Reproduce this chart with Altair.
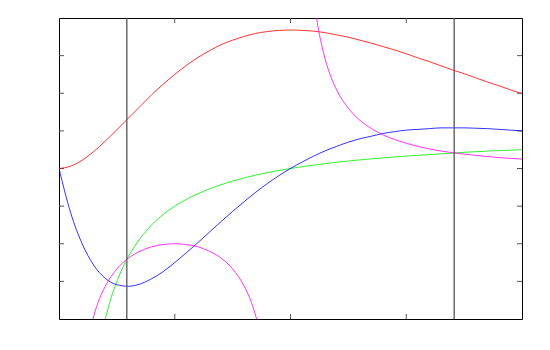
import altair as alt
import pandas as pd

# Curves
red_x = [i / 10 for i in range(41)]
red_y = [0, 0.06, 0.22, 0.45, 0.73, 1.03, 1.34, 1.65, 1.96, 2.24, 2.50, 2.74, 2.95, 3.13,
         3.29, 3.41, 3.51, 3.59, 3.64, 3.67, 3.68, 3.67, 3.65, 3.61, 3.55, 3.49, 3.41, 3.33,
         3.24, 3.15, 3.05, 2.94, 2.84, 2.73, 2.62, 2.52, 2.41, 2.30, 2.20, 2.09, 1.99]

blue_x = [i / 10 for i in range(41)]
blue_y = [0, -1.17, -2.00, -2.57, -2.92, -3.09, -3.13, -3.07, -2.93, -2.74, -2.50, -2.24,
          -1.97, -1.69, -1.41, -1.14, -0.88, -0.63, -0.40, -0.19, 0, 0.17, 0.33, 0.47, 0.59,
          0.70, 0.79, 0.86, 0.93, 0.98, 1.02, 1.04, 1.06, 1.08, 1.08, 1.08, 1.07, 1.06, 1.04,
          1.02, 1.00]

green_x = [0.38, 0.4, 0.45, 0.5, 0.55, 0.6, 0.65, 0.7, 0.75, 0.8, 0.9, 1.0, 1.2, 1.4, 1.6,
           1.8, 2.0, 2.25, 2.5, 2.75, 3.0, 3.25, 3.5, 3.75, 4.0]
green_y = [-4.26, -4.0, -3.44, -3.0, -2.64, -2.33, -2.08, -1.86, -1.67, -1.5, -1.22, -1.0,
           -0.67, -0.43, -0.25, -0.11, 0, 0.11, 0.2, 0.27, 0.33, 0.38, 0.43, 0.47, 0.5]

mag1_x = [0.28, 0.3, 0.35, 0.4, 0.5, 0.6, 0.7, 0.8, 0.9, 1.0, 1.1, 1.2, 1.3, 1.4, 1.5, 1.6,
          1.65, 1.7, 1.72]
mag1_y = [-4.15, -3.92, -3.46, -3.13, -2.67, -2.38, -2.20, -2.08, -2.02, -2.0, -2.02, -2.08,
          -2.20, -2.38, -2.67, -3.13, -3.46, -3.92, -4.15]

mag2_x = [2.2, 2.225, 2.25, 2.3, 2.35, 2.4, 2.5, 2.6, 2.7, 2.8, 2.9, 3.0, 3.2, 3.4, 3.6, 3.8, 4.0]
mag2_y = [4.55, 4.0, 3.56, 2.90, 2.43, 2.08, 1.6, 1.28, 1.06, 0.89, 0.77, 0.67, 0.52, 0.42,
          0.35, 0.29, 0.25]

vlines = [0.586, 3.414]
xticks = [1, 2, 3]
yticks = [-3, -2, -1, 0, 1, 2, 3]

W, H = 463, 301
xs = alt.Scale(domain=[0, 4], nice=False, zero=False)
ys = alt.Scale(domain=[-4, 4], nice=False, zero=False)


def curve(xv, yv, color):
    df = pd.DataFrame({"x": xv, "y": yv})
    return alt.Chart(df).mark_line(color=color, strokeWidth=1, strokeOpacity=0.8, clip=True,
                                   interpolate="monotone").encode(
        x=alt.X("x:Q", scale=xs, axis=None),
        y=alt.Y("y:Q", scale=ys, axis=None),
    )


vl = alt.Chart(pd.DataFrame({"x": vlines})).mark_rule(color="#555555", strokeWidth=1.3).encode(
    x=alt.X("x:Q", scale=xs, axis=None)
)

xt = pd.DataFrame({"x": xticks})
yt = pd.DataFrame({"y": yticks})
tick_col = "#555555"
bot = alt.Chart(xt).mark_rule(color=tick_col, strokeWidth=1).encode(
    x=alt.X("x:Q", scale=xs, axis=None), y=alt.value(H), y2=alt.value(H - 5))
top = alt.Chart(xt).mark_rule(color=tick_col, strokeWidth=1).encode(
    x=alt.X("x:Q", scale=xs, axis=None), y=alt.value(0), y2=alt.value(5))
left = alt.Chart(yt).mark_rule(color=tick_col, strokeWidth=1).encode(
    y=alt.Y("y:Q", scale=ys, axis=None), x=alt.value(0), x2=alt.value(5))
right = alt.Chart(yt).mark_rule(color=tick_col, strokeWidth=1).encode(
    y=alt.Y("y:Q", scale=ys, axis=None), x=alt.value(W), x2=alt.value(W - 5))

chart = alt.layer(
    bot, top, left, right,
    curve(red_x, red_y, "#ff0000"),
    curve(green_x, green_y, "#00ee00"),
    curve(blue_x, blue_y, "#0000ff"),
    curve(mag1_x, mag1_y, "#ff00ff"),
    curve(mag2_x, mag2_y, "#ff00ff"),
    vl,
).properties(
    width=W, height=H,
    autosize=alt.AutoSizeParams(type="none"),
    padding={"left": 51, "top": 10, "right": 20, "bottom": 20},
    background="white",
).configure_view(stroke="black", strokeWidth=1)

chart.save("out.html", embed_options={"renderer": "svg", "actions": False})
